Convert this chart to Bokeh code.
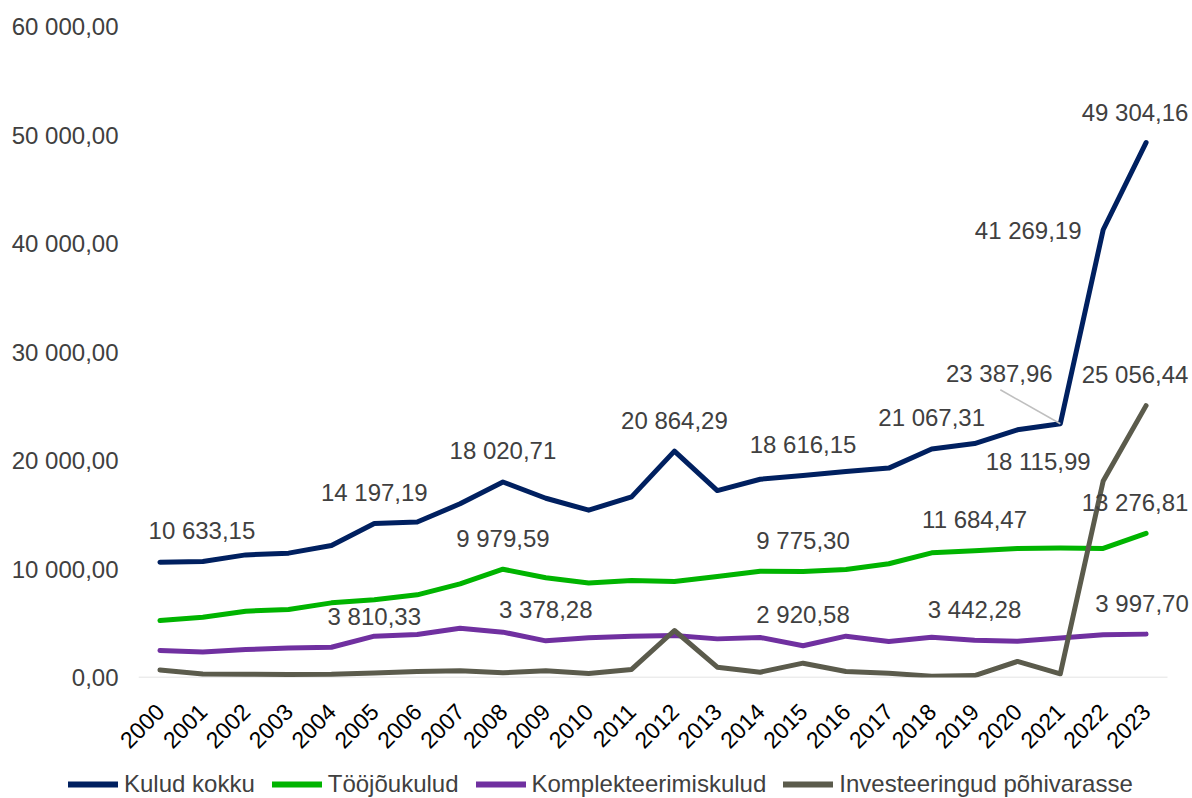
import math
from bokeh.plotting import figure
from bokeh.layouts import column
from bokeh.models import (ColumnDataSource, LabelSet, Legend, LegendItem,
                          Range1d, FixedTicker)
from bokeh.core.properties import value
from bokeh.embed import file_html
from bokeh.resources import INLINE

# ---------------- data ----------------
years = [str(y) for y in range(2000, 2024)]
kulud_kokku = [10633.15, 10700, 11300, 11460, 12170, 14197.19, 14330, 16010,
               18020.71, 16520, 15420, 16650, 20864.29, 17230, 18270, 18616.15,
               18990, 19300, 21067.31, 21560, 22830, 23387.96, 41269.19, 49304.16]
toojoukulud = [5250, 5560, 6110, 6270, 6880, 7160, 7620, 8630, 9979.59, 9190,
               8700, 8940, 8850, 9300, 9800, 9775.30, 9950, 10480, 11490,
               11684.47, 11900, 11930, 11900, 13276.81]
komplekteerimiskulud = [2490, 2350, 2570, 2720, 2790, 3810.33, 3960, 4540, 4180,
                        3378.28, 3660, 3810, 3870, 3560, 3690, 2920.58, 3810,
                        3320, 3720, 3442.28, 3350, 3650, 3930, 3997.70]
investeeringud = [700, 330, 300, 270, 300, 420, 550, 620, 430, 620, 370, 740,
                  4330, 950, 490, 1320, 550, 400, 120, 180, 1480, 340,
                  18115.99, 25056.44]
series_names = ["Kulud kokku", "Tööjõukulud", "Komplekteerimiskulud",
                "Investeeringud põhivarasse"]
y_ticks = [0, 10000, 20000, 30000, 40000, 50000, 60000]

# which points carry a data label (series index, year index)
labelled = [(0, 0), (0, 5), (0, 8), (0, 12), (0, 15), (0, 18), (0, 21), (0, 22), (0, 23),
            (1, 8), (1, 15), (1, 19), (1, 23),
            (2, 5), (2, 9), (2, 15), (2, 19), (2, 23),
            (3, 22), (3, 23)]

# ---------------- styles / placement ----------------
colors = ["#002060", "#00B400", "#7030A0", "#5B5B4C"]
FONT = "Liberation Sans"
TEXT_COL = "#404040"
W, H = 1192, 798
LEG_H = 30
MAIN_H = H - LEG_H
FRAME_L, FRAME_T, FRAME_B = 138, 26, 677
CAT_PX = 42.875
# label offsets in screen px (x right, y up)
label_offsets = {
    (0, 0): (42, 32), (0, 21): (-61, 50), (0, 22): (-75, -1), (0, 23): (-11, 30),
    (1, 23): (-11, 31), (2, 5): (0, 20), (2, 23): (-4, 31),
    (3, 22): (-65, 19), (3, 23): (-11, 31),
}
DEFAULT_OFF = (0, 31)


def fmt(v):
    return f"{v:,.2f}".replace(",", " ").replace(".", ",")


all_series = [kulud_kokku, toojoukulud, komplekteerimiskulud, investeeringud]
xs = list(range(len(years)))
x_end = -0.5 + (W - FRAME_L) / CAT_PX

p = figure(width=W, height=MAIN_H,
           x_range=Range1d(-0.5, x_end), y_range=Range1d(0, 60000),
           output_backend="svg", toolbar_location=None,
           min_border_left=FRAME_L, min_border_right=0, min_border_top=FRAME_T,
           min_border_bottom=MAIN_H - FRAME_B)
p.frame_align = False
p.outline_line_color = None
p.grid.grid_line_color = None

# y axis
ya = p.yaxis[0]
ya.ticker = FixedTicker(ticks=y_ticks)
# pad the shorter label with figure/punctuation spaces so all labels start at the same x
ya.major_label_overrides = {v: (fmt(v) if v else "\u2007\u2007\u2008\u2007\u2007" + fmt(v))
                            for v in y_ticks}
ya.axis_line_color = None
ya.major_tick_line_color = None
ya.minor_tick_line_color = None
ya.major_label_standoff = 14
ya.major_label_text_font = FONT
ya.major_label_text_font_size = "24px"
ya.major_label_text_color = TEXT_COL

# x axis
xa = p.xaxis[0]
xa.ticker = FixedTicker(ticks=xs)
xa.major_label_overrides = {i: y for i, y in enumerate(years)}
xa.major_label_orientation = math.pi / 4
xa.major_tick_line_color = None
xa.minor_tick_line_color = None
xa.axis_line_color = None
xa.major_label_text_font = FONT
xa.major_label_text_font_size = "23px"
xa.major_label_text_color = "#000000"
xa.major_label_standoff = 24

# category axis baseline
p.segment(x0=[xs[0] - 0.5], y0=[0], x1=[xs[-1] + 0.5], y1=[0],
          line_color="#D9D9D9", line_width=1.5)

renderers = []
for vals, col in zip(all_series, colors):
    r = p.line(xs, vals, line_color=col, line_width=5, line_join="round",
               line_cap="round")
    renderers.append(r)

# leader line for the 2021 total label
units_per_px = 60000 / (FRAME_B - FRAME_T)
lead_dx_px, lead_dy_px = -60, 34
p.segment(x0=[xs[21] + lead_dx_px / CAT_PX], y0=[kulud_kokku[21] + lead_dy_px * units_per_px],
          x1=[xs[21]], y1=[kulud_kokku[21]], line_color="#BFBFBF", line_width=1.5)

# data labels
lx, ly, lt, lxo, lyo = [], [], [], [], []
for key in labelled:
    s, i = key
    v = all_series[s][i]
    ox, oy = label_offsets.get(key, DEFAULT_OFF)
    lx.append(xs[i]); ly.append(v); lt.append(fmt(v)); lxo.append(ox); lyo.append(oy)
src = ColumnDataSource(dict(x=lx, y=ly, text=lt, xo=lxo, yo=lyo))
p.add_layout(LabelSet(x="x", y="y", text="text", x_offset="xo", y_offset="yo",
                      source=src, text_align="center", text_baseline="middle",
                      text_font=value(FONT), text_font_size=value("24px"),
                      text_color=TEXT_COL))

# legend strip below the chart (same series styles)
lg = figure(width=W, height=LEG_H, x_range=Range1d(0, 1), y_range=Range1d(0, 1),
            output_backend="svg", toolbar_location=None,
            x_axis_location=None, y_axis_location=None, min_border=0)
lg.frame_align = False
lg.outline_line_color = None
lg.grid.grid_line_color = None
leg_renderers = [lg.line([xs[0]], [vals[0]], line_color=col, line_width=6, line_cap="round")
                 for vals, col in zip(all_series, colors)]
legend = Legend(items=[LegendItem(label=n, renderers=[r]) for n, r in zip(series_names, leg_renderers)],
                orientation="horizontal", location=(68, 0),
                glyph_width=50, glyph_height=20, label_standoff=6, spacing=17,
                padding=0, margin=0, border_line_color=None, background_fill_alpha=0,
                label_text_font=FONT, label_text_font_size="24px",
                label_text_color=TEXT_COL)
lg.add_layout(legend)

open("out.html", "w").write(file_html(column(p, lg, spacing=0), INLINE))
